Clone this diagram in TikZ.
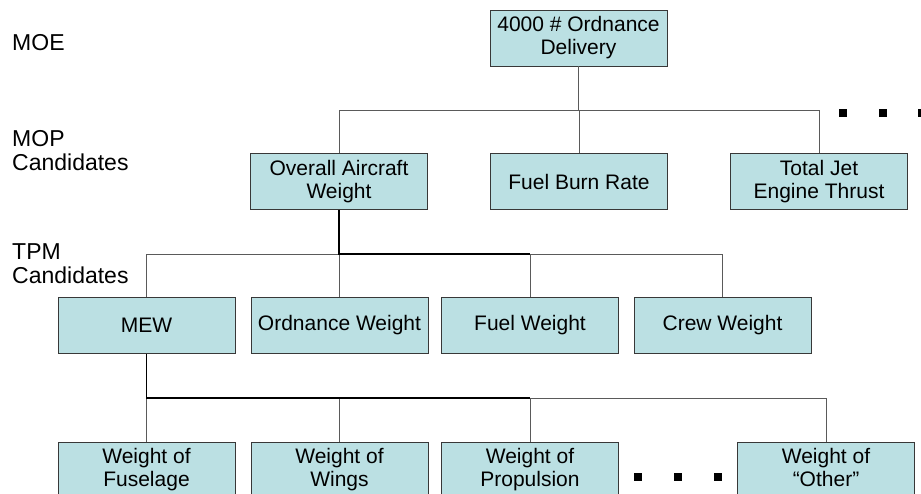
\documentclass[tikz,border=0pt]{standalone}
\usepackage{fontspec}
\setmainfont{Liberation Sans}
\usepackage{tikz}
\usetikzlibrary{positioning}

\definecolor{boxfill}{RGB}{187,224,227}
\definecolor{wiregray}{RGB}{90,90,90}

\tikzset{
  mbox/.style={draw=black!78, line width=0.9pt, fill=boxfill, minimum width=177pt,
    minimum height=56pt, inner sep=0pt, align=center, font=\fontsize{21}{23}\selectfont},
  lvl/.style={anchor=north west, inner sep=0pt, align=left, font=\fontsize{23}{24}\selectfont},
  thinwire/.style={draw=wiregray, line width=0.9pt},
  thickwire/.style={draw=black, line width=1.9pt},
}

\begin{document}
\begin{tikzpicture}[x=1pt, y=-1pt]

  \newcommand\RowA{38};
  \newcommand\RowB{181.5};
  \newcommand\RowC{325.5};
  \newcommand\RowD{470};

  \clip (0,0) rectangle (921,493);

  %% level labels
  \node[lvl] (moe) at (12,34.5) {MOE};
  \node[lvl] (mop) at (12,130.5) {MOP\\Candidates};
  \node[lvl] (tpm) at (12,243.5) {TPM\\Candidates};

  \coordinate (busA) at (0,110);
  \coordinate (busB) at (0,254);
  \coordinate (busC) at (0,398);

  %% MOE
  \node[mbox] (ord) at (578.5,\RowA) {4000 \# Ordnance\\Delivery};

  %% MOP candidates
  \node[mbox] (oaw) at (339,\RowB) {Overall Aircraft\\Weight};
  \node[mbox] (fbr) at (579,\RowB) {Fuel Burn Rate};
  \node[mbox] (tjt) at (819,\RowB) {Total Jet\\Engine Thrust};

  %% TPM candidates
  \node[mbox] (mew) at (146.5,\RowC) {MEW};
  \node[mbox] (ordw) at (339.5,\RowC) {Ordnance Weight};
  \node[mbox] (fuelw) at (530,\RowC) {Fuel Weight};
  \node[mbox] (creww) at (722.5,\RowC) {Crew Weight};

  %% MEW breakdown
  \node[mbox] (wfus) at (146.5,\RowD) {Weight of\\Fuselage};
  \node[mbox] (wwing) at (339.5,\RowD) {Weight of\\Wings};
  \node[mbox] (wprop) at (530,\RowD) {Weight of\\Propulsion};
  \node[mbox] (woth) at (826,\RowD) {Weight of\\“Other”\vphantom{g}};

  %% MOE -> MOP
  \draw[thinwire] (ord.south) -- (ord.south |- busA);
  \draw[thinwire] (oaw.north |- busA) -- (tjt.north |- busA);
  \foreach \n in {oaw,fbr,tjt}
    \draw[thinwire] (\n.north |- busA) -- (\n.north);

  %% MOP -> TPM
  \draw[thinwire] (mew.north |- busB) -- (creww.north |- busB);
  \foreach \n in {mew,ordw,fuelw,creww}
    \draw[thinwire] (\n.north |- busB) -- (\n.north);
  \draw[thickwire] (oaw.south) -- (oaw.south |- busB) -- (fuelw.north |- busB);

  %% TPM -> weights
  \draw[thinwire] (wfus.north |- busC) -- (woth.north |- busC);
  \foreach \n in {wfus,wwing,wprop,woth}
    \draw[thinwire] (\n.north |- busC) -- (\n.north);
  \draw[thickwire] (mew.south) -- (mew.south |- busC) -- (wprop.north |- busC);

  %% ellipsis marks
  \foreach \x in {843,883,922}
    \fill (\x-3.75,109.25) rectangle +(7.5,7.5);
  \foreach \x in {638,678,718}
    \fill (\x-3.75,473.25) rectangle +(7.5,7.5);

\end{tikzpicture}
\end{document}
